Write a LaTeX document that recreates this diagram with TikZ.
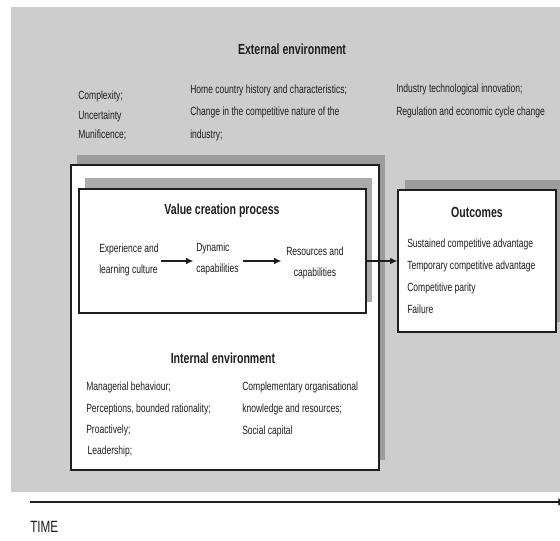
\documentclass[tikz,border=0pt]{standalone}
\usepackage{fontspec}
\setmainfont[FakeStretch=0.72]{Liberation Sans}
\usetikzlibrary{arrows.meta,fit}
\definecolor{envgrey}{HTML}{CDCDCD}
\definecolor{shadowdark}{HTML}{9C9C9C}
\definecolor{shadowlight}{HTML}{ABABAB}
\definecolor{ink}{HTML}{1E1E1E}
\begin{document}
\begin{tikzpicture}[x=0.75pt,y=-0.75pt,
  txt/.style={text=ink, inner sep=0pt, anchor=west, align=left},
  ttl/.style={font=\fontsize{11}{13}\selectfont\bfseries, text=ink, inner sep=0pt},
  boxframe/.style={draw=ink, line width=0.9pt, fill=white, inner sep=0pt},
  shade/.style={inner sep=0pt, draw=none},
  flow/.style={-{Latex[length=5.5pt,width=5pt]}, line width=0.9pt, draw=ink}]
\useasboundingbox (0,0) rectangle (560,540);

% surrounding external environment
\fill[envgrey] (11,7) rectangle (560,492);
\node[ttl] (exttitle) at (292,49) {External environment};
\node[txt, font=\fontsize{8.9}{14.6}\selectfont] (extA) at (78,115.5)
  {Complexity;\\Uncertainty\\Munificence;};
\node[txt, font=\fontsize{8.9}{16.9}\selectfont] (extB) at (190,112.5)
  {Home country history and characteristics;\\Change in the competitive nature of the\\industry;};
\node[txt, font=\fontsize{8.9}{17.2}\selectfont] (extC) at (396,100.5)
  {Industry technological innovation;\\Regulation and economic cycle change};

% internal environment frame with its offset shadow
\node[shade, fill=shadowdark, fit={(77,155) (385,460)}] (intshadow) {};
\node[boxframe, fit={(71,165) (379,470)}] (internal) {};

% value creation process frame with its offset shadow
\node[shade, fill=shadowlight, fit={(85,178) (372,302)}] (vcpshadow) {};
\node[boxframe, fit={(79,189) (366,313)}] (vcp) {};

% outcomes frame with its offset shadow
\node[shade, fill=shadowdark, fit={(405,180) (563,322)}] (outshadow) {};
\node[boxframe, fit={(398,190) (556,332)}] (outcomes) {};

% value creation chain
\coordinate (rowy) at (0,261);
\node[ttl] (vcptitle) at (222,211) {Value creation process};
\node[txt, font=\fontsize{8.9}{16.2}\selectfont] (exp) at (99,260)
  {Experience and\\learning culture};
\node[txt, font=\fontsize{8.9}{15.8}\selectfont] (dyn) at (196,258.5)
  {Dynamic\\capabilities};
\node[txt, anchor=center, align=center, font=\fontsize{8.9}{15.8}\selectfont] (res) at (315,262.5)
  {Resources and\\capabilities};
\draw[flow] ([xshift=1.5pt]exp.east |- rowy) -- ([xshift=-2pt]dyn.west |- rowy);
\draw[flow] ([xshift=3.5pt]dyn.east |- rowy) -- ([xshift=-3.5pt]res.west |- rowy);
\draw[flow] (vcp.east |- rowy) -- (outcomes.west |- rowy);

% outcomes
\node[ttl] (outtitle) at (477,212) {Outcomes};
\node[txt, font=\fontsize{8.9}{16.6}\selectfont] (outlist) at (407,276.5)
  {Sustained competitive advantage\\Temporary competitive advantage\\Competitive parity\\Failure};

% internal environment
\node[ttl] (inttitle) at (223,358) {Internal environment};
\node[txt, font=\fontsize{8.9}{15.8}\selectfont] (intA) at (86,419.5)
  {Managerial behaviour;\\Perceptions, bounded rationality;\\Proactively;\\\hspace{1pt}Leadership;};
\node[txt, font=\fontsize{8.9}{16.5}\selectfont] (intB) at (242,409.5)
  {Complementary organisational\\knowledge and resources;\\Social capital};

% time axis
\coordinate (tstart) at (30,502);
\coordinate (tend) at (565,502);
\draw[-{Latex[length=5pt,width=6pt]}, line width=0.9pt, draw=ink] (tstart) -- (tend);
\node[txt, font=\fontsize{12.2}{14}\selectfont] (time) at (30,527) {TIME};
\end{tikzpicture}
\end{document}
